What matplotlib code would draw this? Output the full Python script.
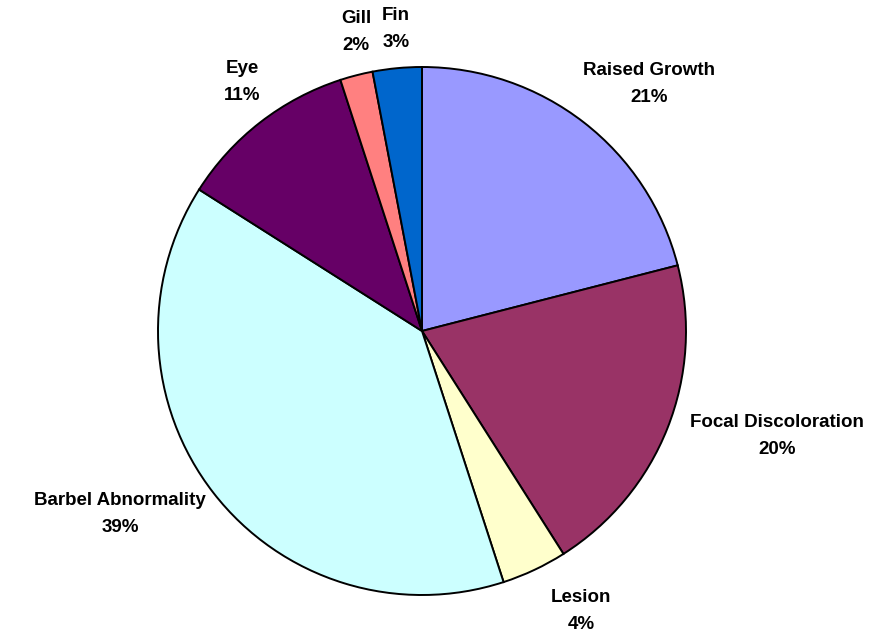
import matplotlib.pyplot as plt

# Fish abnormality types, share of observations (%)
categories = ["Raised Growth", "Focal Discoloration", "Lesion",
              "Barbel Abnormality", "Eye", "Gill", "Fin"]
shares = [21, 20, 4, 39, 11, 2, 3]

colors = ["#9999FF", "#993366", "#FFFFCC", "#CCFFFF", "#660066", "#FF8080", "#0066CC"]

# label centres, in units of pie radius
label_xy = [(0.86, 0.936), (1.345, -0.398), (0.602, -1.061), (-1.144, -0.693),
            (-0.682, 0.943), (-0.25, 1.133), (-0.098, 1.144)]

W, H = 873, 635
cx, cy, r = 422, 331, 264

fig = plt.figure(figsize=(W / 100, H / 100), dpi=100)
ax = fig.add_axes([(cx - r) / W, (H - cy - r) / H, 2 * r / W, 2 * r / H])

ax.pie(shares, colors=colors, startangle=90, counterclock=False, radius=1,
       wedgeprops=dict(edgecolor="black", linewidth=1.4))
ax.set_xlim(-1, 1)
ax.set_ylim(-1, 1)
ax.set_aspect("equal")
ax.axis("off")

for name, val, (x, y) in zip(categories, shares, label_xy):
    ax.text(x, y, f"{name}\n{val}%", ha="center", va="center",
            fontsize=13.5, fontweight="bold", family="Liberation Sans",
            linespacing=1.75, clip_on=False)

fig.savefig("out.png", dpi=100)
